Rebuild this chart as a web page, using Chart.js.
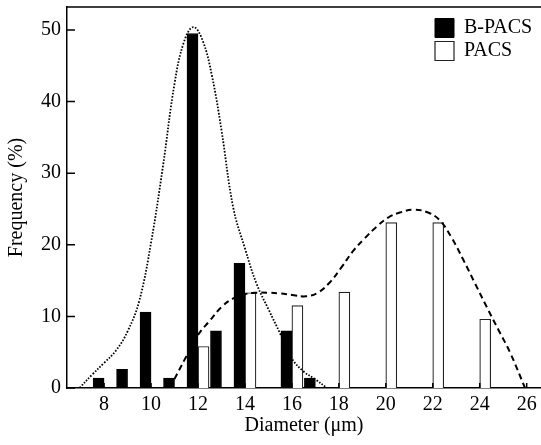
<!DOCTYPE html>
<html>
<head>
<meta charset="utf-8">
<script src="https://cdn.jsdelivr.net/npm/chart.js@4/dist/chart.umd.min.js"></script>
<style>
  html, body { margin: 0; padding: 0; background: #fff; }
  #wrap { width: 541px; height: 445px; position: relative; }
</style>
</head>
<body>
<div id="wrap"><canvas id="sizeChart"></canvas></div>
<script>
// bar data: diameter (um) -> frequency (%)
const bpacsX = [8, 9, 10, 11, 12, 13, 14, 16, 17];
const bpacsY = [1.4, 2.6, 10.6, 1.4, 49.5, 8.0, 17.4, 8.0, 1.4];
const pacsX = [12, 14, 16, 18, 20, 22, 24];
const pacsY = [5.8, 13.3, 11.5, 13.4, 23.1, 23.1, 9.6];

// fitted curves
const bpacsFitX = [6.95, 7.5, 8.0, 8.5, 9.0, 9.5, 10.0, 10.5, 11.0, 11.4, 11.8, 12.2, 12.6, 13.0, 13.5, 14.0, 14.5, 15.0, 15.5, 16.0, 16.5, 17.0, 17.5];
const bpacsFitY = [0, 1.9, 3.5, 5.2, 7.9, 12.2, 20.3, 30.8, 42.5, 48.3, 50.4, 48.5, 43.5, 36.0, 25.2, 19.5, 14.5, 11.0, 7.6, 4.1, 2.3, 1.2, 0];
const pacsFitX = [10.8, 11.5, 12.0, 12.5, 13.0, 13.5, 14.0, 14.5, 15.0, 15.5, 16.0, 16.6, 17.1, 17.6, 18.1, 18.6, 19.1, 19.6, 20.1, 20.6, 21.2, 21.8, 22.3, 22.8, 23.3, 23.8, 24.3, 24.8, 25.3, 25.93];
const pacsFitY = [0, 4.4, 7.4, 9.4, 11.3, 12.5, 13.1, 13.3, 13.3, 13.2, 13.0, 12.8, 13.3, 14.7, 16.8, 19.1, 20.9, 22.5, 23.8, 24.5, 24.9, 24.5, 23.4, 21.0, 17.9, 14.6, 11.3, 8.1, 4.9, 0];

const xTicks = [8, 10, 12, 14, 16, 18, 20, 22, 24, 26];
const yTicks = [0, 10, 20, 30, 40, 50];

const FONT = "'Liberation Serif', 'Times New Roman', serif";

function toPoints(xs, ys) {
  return xs.map((x, i) => ({ x, y: ys[i] }));
}

// top frame line and inward tick marks
const frameTicks = {
  id: "frameTicks",
  afterDraw(chart) {
    const { ctx, chartArea: a, scales } = chart;
    ctx.save();
    ctx.strokeStyle = "#000";
    ctx.lineWidth = 1.5;
    ctx.beginPath();
    ctx.moveTo(a.left, a.top);
    ctx.lineTo(a.right, a.top);
    xTicks.forEach((v) => {
      const px = scales.x.getPixelForValue(v);
      ctx.moveTo(px, a.bottom);
      ctx.lineTo(px, a.bottom - 5);
    });
    yTicks.forEach((v) => {
      const py = scales.y.getPixelForValue(v);
      ctx.moveTo(a.left, py);
      ctx.lineTo(a.left + 8, py);
    });
    ctx.stroke();
    ctx.restore();
  },
};

// keep the legend out of the layout and put it inside the plot, top right
const legendInside = {
  id: "legendInside",
  beforeLayout(chart) {
    const lg = chart.legend;
    if (!lg || lg._wrapped) return;
    const fit = lg.fit;
    lg.fit = function () {
      fit.call(this);
      this._realWidth = this.width;
      this.width = 0;
    };
    lg._wrapped = true;
  },
  afterLayout(chart) {
    const lg = chart.legend;
    lg.width = lg._realWidth;
    lg.left = 432;
    lg.right = lg.left + lg.width;
    lg.top = 15;
    lg.bottom = lg.top + lg.height;
  },
};

Chart.defaults.color = "#000";
Chart.defaults.font.family = FONT;
Chart.defaults.font.size = 20;

new Chart(document.getElementById("sizeChart"), {
  type: "bar",
  data: {
    datasets: [
      {
        label: "B-PACS",
        data: toPoints(bpacsX, bpacsY),
        backgroundColor: "#000",
        borderColor: "#000",
        borderWidth: 1,
        barThickness: 11,
        order: 1,
      },
      {
        label: "PACS",
        data: toPoints(pacsX, pacsY),
        backgroundColor: "#fff",
        borderColor: "#222",
        borderWidth: 1.2,
        barThickness: 11,
        order: 1,
      },
      {
        type: "line",
        label: "B-PACS fit",
        data: toPoints(bpacsFitX, bpacsFitY),
        borderColor: "#000",
        borderWidth: 1.8,
        borderDash: [1.6, 1.6],
        pointRadius: 0,
        tension: 0.4,
        fill: false,
        order: 0,
      },
      {
        type: "line",
        label: "PACS fit",
        data: toPoints(pacsFitX, pacsFitY),
        borderColor: "#000",
        borderWidth: 2,
        borderDash: [6, 4],
        pointRadius: 0,
        tension: 0.4,
        fill: false,
        order: 0,
      },
    ],
  },
  options: {
    responsive: true,
    maintainAspectRatio: false,
    animation: false,
    events: [],
    layout: { padding: { top: 7, right: 0, bottom: 0, left: 0 } },
    scales: {
      x: {
        type: "linear",
        min: 6.42,
        max: 26.61,
        offset: false,
        grid: { display: false, drawTicks: false, offset: false },
        border: { display: true, color: "#000", width: 1.5 },
        afterBuildTicks: (scale) => {
          scale.ticks = xTicks.map((v) => ({ value: v }));
        },
        afterFit: (scale) => {
          scale.height = 57;
          scale.paddingLeft = 0;
          scale.paddingRight = 0;
        },
        ticks: { padding: 5, autoSkip: false, maxRotation: 0, color: "#000" },
        title: {
          display: true,
          text: "Diameter (μm)",
          color: "#000",
          padding: { top: 0, bottom: 7 },
        },
      },
      y: {
        min: 0,
        max: 53.2,
        grid: { display: false, drawTicks: false },
        border: { display: true, color: "#000", width: 1.5 },
        afterBuildTicks: (scale) => {
          scale.ticks = yTicks.map((v) => ({ value: v }));
        },
        afterFit: (scale) => {
          scale.width = 67;
          scale.paddingTop = 0;
          scale.paddingBottom = 0;
        },
        ticks: { padding: 6, color: "#000" },
        title: {
          display: true,
          text: "Frequency (%)",
          color: "#000",
          padding: { top: 5, bottom: 0 },
        },
      },
    },
    plugins: {
      legend: {
        position: "right",
        align: "start",
        labels: {
          boxWidth: 19,
          boxHeight: 19,
          padding: 3,
          color: "#000",
          font: { family: FONT, size: 20 },
          filter: (item) => item.datasetIndex < 2,
        },
      },
      tooltip: { enabled: false },
    },
  },
  plugins: [frameTicks, legendInside],
});
</script>
</body>
</html>
